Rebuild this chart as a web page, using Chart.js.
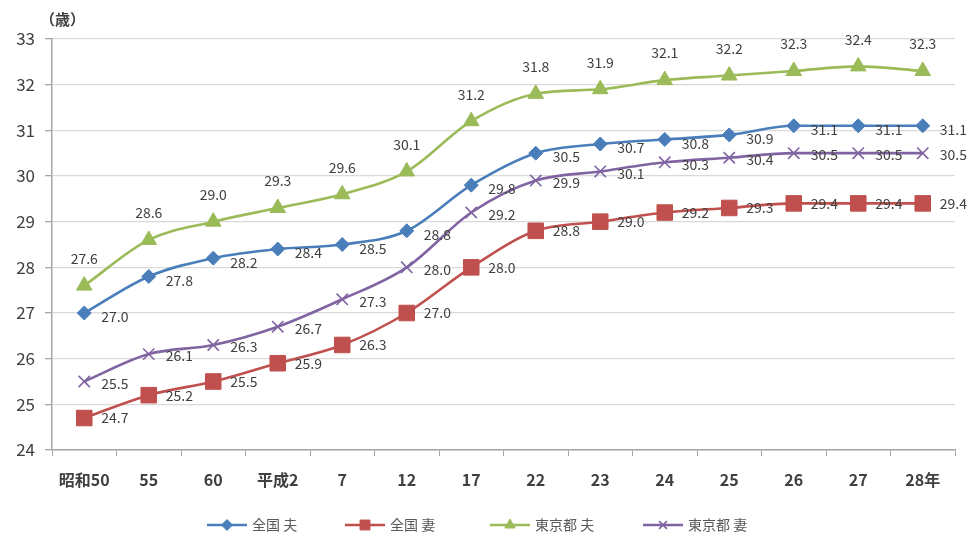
<!DOCTYPE html>
<html><head><meta charset="utf-8">
<script src="https://cdn.jsdelivr.net/npm/chart.js@4"></script>
<style>html,body{margin:0;padding:0;background:#fff}#wrap{width:977px;height:545px;position:relative}</style>
</head><body><div id="wrap"><canvas id="c" width="977" height="545"></canvas></div>
<script>
const categories = ['昭和50','55','60','平成2','7','12','17','22','23','24','25','26','27','28年'];
const zenkokuOtto = [27.0, 27.8, 28.2, 28.4, 28.5, 28.8, 29.8, 30.5, 30.7, 30.8, 30.9, 31.1, 31.1, 31.1];
const zenkokuTsuma = [24.7, 25.2, 25.5, 25.9, 26.3, 27.0, 28.0, 28.8, 29.0, 29.2, 29.3, 29.4, 29.4, 29.4];
const tokyoOtto = [27.6, 28.6, 29.0, 29.3, 29.6, 30.1, 31.2, 31.8, 31.9, 32.1, 32.2, 32.3, 32.4, 32.3];
const tokyoTsuma = [25.5, 26.1, 26.3, 26.7, 27.3, 28.0, 29.2, 29.9, 30.1, 30.3, 30.4, 30.5, 30.5, 30.5];
const seriesNames = ['全国 夫', '全国 妻', '東京都 夫', '東京都 妻'];
const yTicks = [24, 25, 26, 27, 28, 29, 30, 31, 32, 33];
const yUnit = '（歳）';

const FONT = '"Noto Sans CJK JP", "Noto Sans", sans-serif';
const colors = ['#4A7EBB', '#C0504D', '#9BBB59', '#8064A2'];
const styles = [
  {pointStyle:'rectRot', radius:7, bw:1, lr:5.5},
  {pointStyle:'rect', radius:11, bw:1, lr:7},
  {pointStyle:'triangle', radius:9, bw:1, lr:6},
  {pointStyle:'crossRot', radius:8, bw:1.6, lr:5.5}
];
const labelPos = ['right','right','above','right'];
const allData = [zenkokuOtto, zenkokuTsuma, tokyoOtto, tokyoTsuma];

const datasets = allData.map((d, i) => ({
  label: seriesNames[i],
  data: d,
  borderColor: colors[i],
  backgroundColor: colors[i],
  borderWidth: 2.6,
  pointStyle: styles[i].pointStyle,
  pointRadius: styles[i].radius,
  pointBorderWidth: styles[i].bw,
  pointBackgroundColor: colors[i],
  pointBorderColor: colors[i],
  tension: 0.2,
  cubicInterpolationMode: 'monotone',
  clip: false
}));

const labelsPlugin = {
  id: 'labels',
  afterDatasetsDraw(chart) {
    const ctx = chart.ctx;
    ctx.save();
    ctx.font = '14px ' + FONT;
    ctx.fillStyle = '#404040';
    chart.data.datasets.forEach((ds, i) => {
      const meta = chart.getDatasetMeta(i);
      meta.data.forEach((pt, j) => {
        const txt = ds.data[j].toFixed(1);
        if (labelPos[i] === 'above') {
          ctx.textAlign = 'center'; ctx.textBaseline = 'middle';
          ctx.fillText(txt, pt.x, pt.y - 27);
        } else {
          ctx.textAlign = 'left'; ctx.textBaseline = 'middle';
          const dy = i === 0 ? 4 : (i === 3 ? 2 : 0);
          ctx.fillText(txt, pt.x + 17, pt.y + dy);
        }
      });
    });
    ctx.restore();
  },
  afterDraw(chart) {
    const ctx = chart.ctx;
    ctx.save();
    ctx.font = 'bold 15px ' + FONT;
    ctx.fillStyle = '#404040';
    ctx.textAlign = 'left'; ctx.textBaseline = 'middle';
    ctx.fillText(yUnit, 40, 19);
    const xs = [207, 345, 490, 643];
    const y = 525;
    ctx.font = '14px ' + FONT;
    xs.forEach((x0, i) => {
      ctx.strokeStyle = colors[i];
      ctx.lineWidth = 2.6;
      ctx.beginPath(); ctx.moveTo(x0, y); ctx.lineTo(x0 + 40, y); ctx.stroke();
      ctx.fillStyle = colors[i];
      ctx.lineWidth = styles[i].bw;
      Chart.helpers.drawPoint(ctx, {pointStyle: styles[i].pointStyle, radius: styles[i].lr, borderWidth: styles[i].bw, rotation: 0}, x0 + 20, y);
      ctx.fillStyle = '#595959';
      ctx.textAlign = 'left'; ctx.textBaseline = 'middle';
      ctx.fillText(seriesNames[i], x0 + 45, y);
    });
    ctx.restore();
  }
};

new Chart(document.getElementById('c'), {
  type: 'line',
  data: { labels: categories, datasets },
  options: {
    responsive: false,
    animation: false,
    layout: { padding: { top: 39, right: 22, left: 0, bottom: 50 } },
    plugins: { legend: { display: false }, tooltip: { enabled: false } },
    scales: {
      x: {
        offset: true,
        grid: { offset: true, drawOnChartArea: false, drawTicks: true, tickLength: 6, color: '#A6A6A6' },
        border: { color: '#A6A6A6', width: 1.5 },
        ticks: { color: '#404040', font: { family: FONT, size: 16, weight: 'bold' }, padding: 14, maxRotation: 0, autoSkip: false },
        afterFit(s) { s.height = 45; }
      },
      y: {
        min: 24, max: 33,
        afterBuildTicks(s) { s.ticks = yTicks.map(v => ({ value: v })); },
        grid: { color: '#D9D9D9', lineWidth: 1.3, tickLength: 7, tickColor: '#A6A6A6' },
        border: { color: '#A6A6A6', width: 1.5 },
        ticks: { color: '#404040', font: { family: FONT, size: 17 }, padding: 10 },
        afterFit(s) { s.width = 52; }
      }
    }
  },
  plugins: [labelsPlugin]
});
</script></body></html>
